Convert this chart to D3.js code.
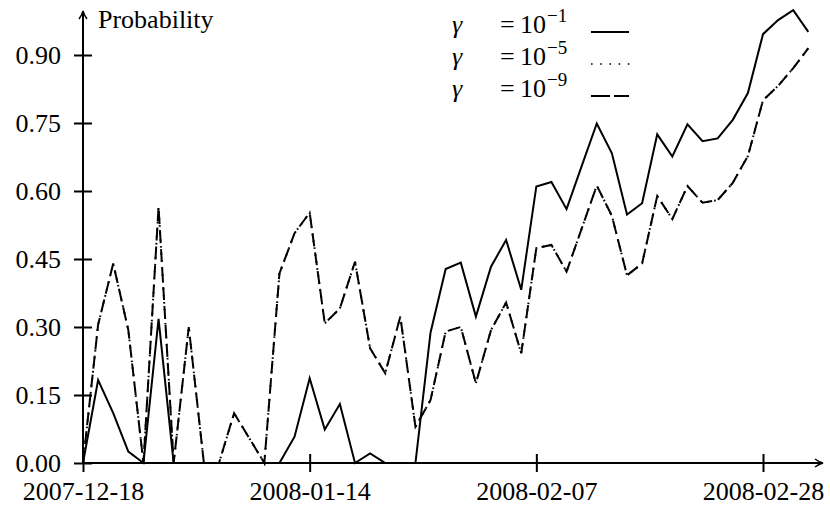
<!DOCTYPE html>
<html>
<head>
<meta charset="utf-8">
<script src="https://cdn.jsdelivr.net/npm/d3@7"></script>
<style>
  html, body { margin: 0; padding: 0; background: #fff; }
  svg { display: block; }
</style>
</head>
<body>
<svg id="chart" width="830" height="509"></svg>
<script>
// ---- data ----
const tickIndex = [0, 15, 30, 45];
const tickLabels = ["2007-12-18", "2008-01-14", "2008-02-07", "2008-02-28"];
const yTicks = [0, 0.15, 0.30, 0.45, 0.60, 0.75, 0.90];
const gammaExp = ["\u22121", "\u22125", "\u22129"];

const gamma1 = [0, 0.183, 0.11, 0.025, 0, 0.318, 0, 0, 0, 0, 0, 0, 0, 0, 0.058, 0.187, 0.074, 0.13, 0, 0.021,
  0, 0, 0, 0.288, 0.428, 0.442, 0.323, 0.433, 0.492, 0.382, 0.61, 0.62, 0.56, 0.655, 0.749, 0.683, 0.548, 0.573,
  0.725, 0.676, 0.747, 0.71, 0.716, 0.757, 0.816, 0.946, 0.977, 0.999, 0.951];
const gamma5 = [0, 0.305, 0.44, 0.293, 0, 0.565, 0, 0.30, 0, 0, 0.11, 0.055, 0, 0.418, 0.507, 0.552, 0.308, 0.341,
  0.444, 0.253, 0.198, 0.323, 0.08, 0.139, 0.29, 0.30, 0.176, 0.293, 0.354, 0.242, 0.474, 0.481, 0.422, 0.517,
  0.612, 0.545, 0.414, 0.44, 0.589, 0.538, 0.611, 0.574, 0.58, 0.618, 0.677, 0.80, 0.832, 0.871, 0.915];
const gamma9 = [0, 0.305, 0.44, 0.293, 0, 0.565, 0, 0.30, 0, 0, 0.11, 0.055, 0, 0.418, 0.507, 0.552, 0.308, 0.341,
  0.444, 0.253, 0.198, 0.323, 0.08, 0.139, 0.29, 0.30, 0.176, 0.293, 0.354, 0.242, 0.474, 0.481, 0.422, 0.517,
  0.612, 0.545, 0.414, 0.44, 0.589, 0.538, 0.611, 0.574, 0.58, 0.618, 0.677, 0.80, 0.832, 0.871, 0.915];

// ---- pick an installed serif font ----
function pickSerif() {
  const c = document.createElement("canvas").getContext("2d");
  const s = "Probability 0.90 2007-12-18 mmmwwwiiil";
  c.font = "40px monospace"; const base = c.measureText(s).width;
  const cands = ["Liberation Serif", "DejaVu Serif", "Noto Serif", "Times New Roman", "Tinos", "FreeSerif"];
  for (const f of cands) {
    c.font = `40px "${f}", monospace`;
    if (Math.abs(c.measureText(s).width - base) > 0.5) return `"${f}", serif`;
  }
  return "serif";
}
const FONT = pickSerif();

// ---- layout ----
const svg = d3.select("#chart").style("font-family", FONT);
const FS = 26;
const x = d3.scaleLinear().domain([0, 45]).range([83, 763]);
const y = d3.scaleLinear().domain([0, 0.90]).range([463, 55]);
const xEnd = 822, yTop = 12;

// ---- lines ----
const line = d3.line().x((d, i) => x(i)).y(d => y(d));
const series = [
  { data: gamma1, dash: null },
  { data: gamma5, dash: "1.6,5.4" },
  { data: gamma9, dash: "13,6" }
];
svg.append("g").selectAll("path").data(series).join("path")
  .attr("d", d => line(d.data))
  .attr("fill", "none")
  .attr("stroke", "#000")
  .attr("stroke-width", 2)
  .attr("stroke-linejoin", "miter")
  .attr("stroke-dasharray", d => d.dash);

// ---- axes ----
const yAxis = d3.axisLeft(y).tickValues(yTicks).tickFormat(d3.format(".2f")).tickSize(9).tickPadding(22);
const gy = svg.append("g").attr("transform", "translate(83,0)").call(yAxis)
  .attr("font-family", FONT).attr("font-size", FS);
gy.select(".domain").remove();
gy.selectAll(".tick line").attr("x1", -9).attr("x2", 9).attr("stroke", "#000").attr("stroke-width", 2);
gy.selectAll(".tick text").attr("x", -22).attr("dy", "0.32em").attr("fill", "#000");

const xAxis = d3.axisBottom(x).tickValues(tickIndex).tickFormat((d, i) => tickLabels[i]).tickSize(9).tickPadding(0);
const gx = svg.append("g").attr("transform", "translate(0,463)").call(xAxis)
  .attr("font-family", FONT).attr("font-size", FS);
gx.select(".domain").remove();
gx.selectAll(".tick line").attr("y1", -9).attr("y2", 9).attr("stroke", "#000").attr("stroke-width", 2);
gx.selectAll(".tick text").attr("y", 37).attr("dy", 0).attr("fill", "#000");

// axis lines with arrows
svg.append("line").attr("x1", 83).attr("y1", 463).attr("x2", xEnd).attr("y2", 463)
  .attr("stroke", "#000").attr("stroke-width", 2);
svg.append("line").attr("x1", 83).attr("y1", 463).attr("x2", 83).attr("y2", yTop + 1)
  .attr("stroke", "#000").attr("stroke-width", 2);
svg.append("path").attr("d", `M${xEnd - 7},${463 - 4} Q${xEnd - 3},${463 - 1} ${xEnd + 1},463 Q${xEnd - 3},${463 + 1} ${xEnd - 7},${463 + 4}`)
  .attr("fill", "none").attr("stroke", "#000").attr("stroke-width", 1.5);
svg.append("path").attr("d", `M${83 - 4},${yTop + 7} Q${83 - 1},${yTop + 3} 83,${yTop - 1} Q${83 + 1},${yTop + 3} ${83 + 4},${yTop + 7}`)
  .attr("fill", "none").attr("stroke", "#000").attr("stroke-width", 1.5);

svg.append("text").attr("x", 98).attr("y", 28).attr("font-size", FS).attr("font-family", FONT).text("Probability");

// ---- legend ----
const rowsY = [33, 65, 97];
const lg = svg.append("g").attr("font-family", FONT);
gammaExp.forEach((e, i) => {
  const by = rowsY[i];
  lg.append("text").attr("x", 452).attr("y", by).attr("font-size", FS).attr("font-style", "italic").text("\u03b3");
  lg.append("text").attr("x", 500).attr("y", by).attr("font-size", FS).text("=");
  lg.append("text").attr("x", 520).attr("y", by).attr("font-size", FS).text("10");
  lg.append("text").attr("x", 547).attr("y", by - 11).attr("font-size", 19).text(e);
});
const ls = rowsY.map(v => v - 1);
lg.append("line").attr("x1", 591).attr("x2", 629).attr("y1", ls[0]).attr("y2", ls[0])
  .attr("stroke", "#000").attr("stroke-width", 2);
lg.append("line").attr("x1", 591).attr("x2", 630).attr("y1", ls[1]).attr("y2", ls[1])
  .attr("stroke", "#000").attr("stroke-width", 1.6).attr("stroke-dasharray", "1.6,7.6");
lg.append("line").attr("x1", 591).attr("x2", 629).attr("y1", ls[2]).attr("y2", ls[2])
  .attr("stroke", "#000").attr("stroke-width", 2).attr("stroke-dasharray", "19,4");
</script>
</body>
</html>
